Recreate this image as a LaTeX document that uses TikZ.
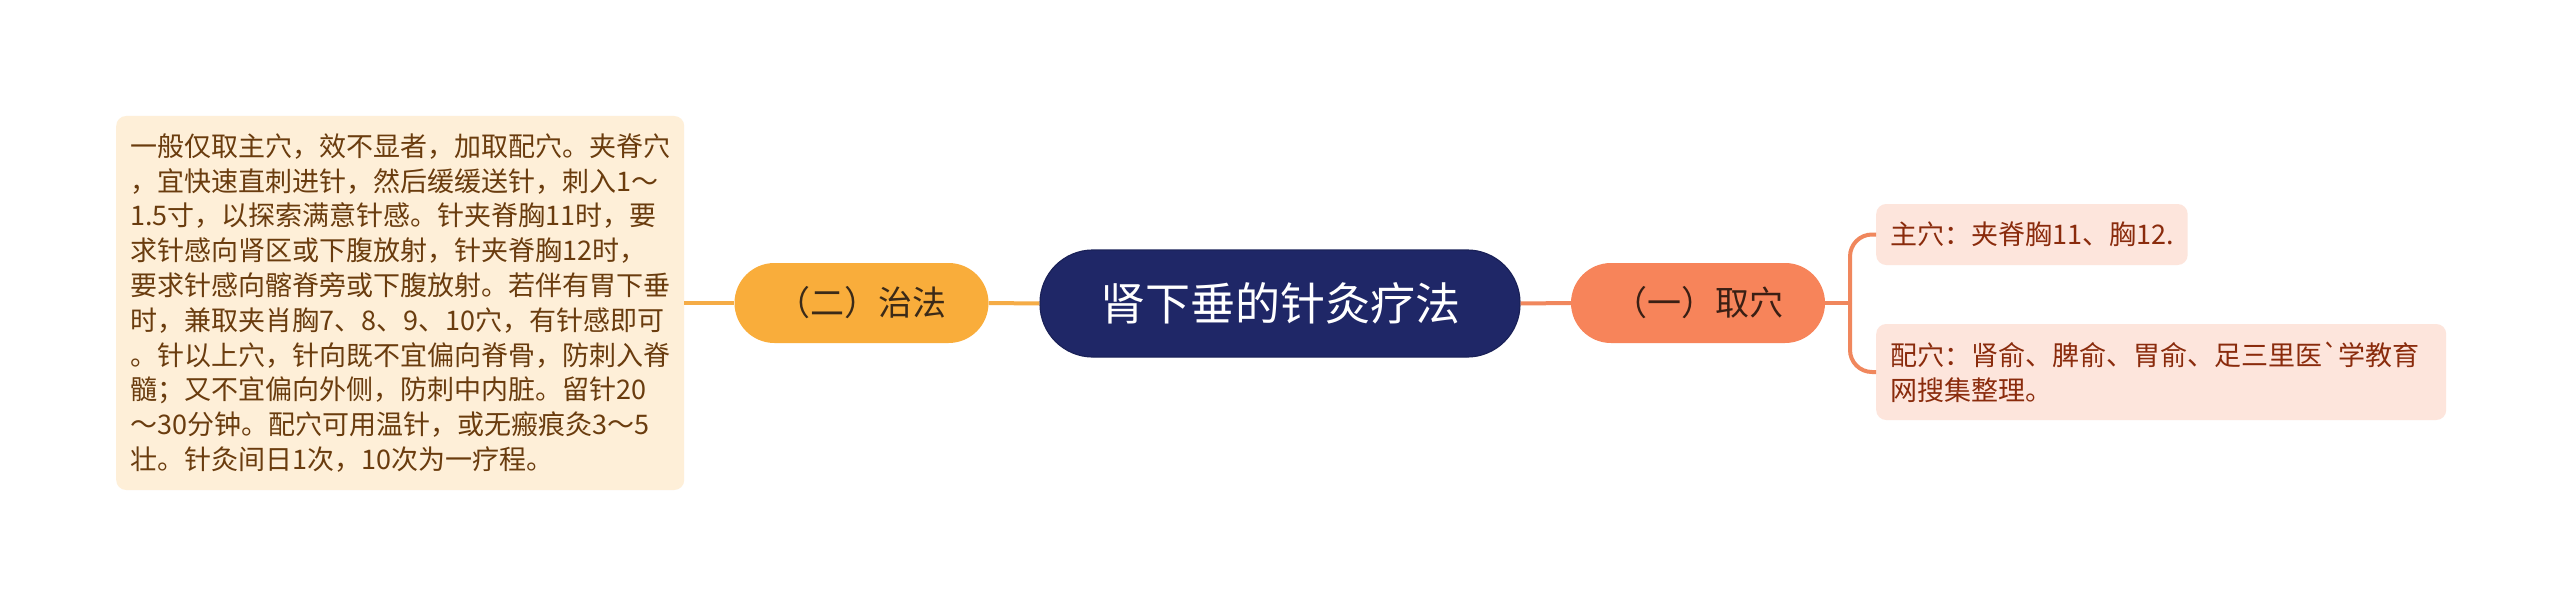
\documentclass[tikz,border=0pt]{standalone}
\usepackage{fontspec}
\newfontfamily\cjk{Noto Sans CJK SC}
\definecolor{navy}{HTML}{1F2767}
\definecolor{zfill}{HTML}{F9AD3B}
\definecolor{ztext}{HTML}{3B2A18}
\definecolor{lfill}{HTML}{FEEFD8}
\definecolor{ltext}{HTML}{6A3C0E}
\definecolor{qfill}{HTML}{F7845A}
\definecolor{qtext}{HTML}{3A1F14}
\definecolor{rfill}{HTML}{FDE5DC}
\definecolor{rtext}{HTML}{8A2B0C}
\definecolor{lline}{HTML}{F5AC46}
\definecolor{rline}{HTML}{F0875D}
\tikzset{
  centerbox/.style={fill=navy, draw=navy!85!black, line width=1.2pt, text=white,
    minimum width=480pt, minimum height=107pt, rounded corners=53pt, inner sep=0pt,
    font={\cjk\fontsize{45}{54}\selectfont}},
  pillbox/.style={minimum width=254pt, minimum height=80pt, rounded corners=40pt,
    inner sep=0pt, font={\cjk\fontsize{34}{40}\selectfont}},
  leftbox/.style={fill=lfill, text=ltext, rounded corners=10pt, anchor=west,
    inner xsep=14pt, inner ysep=0pt, minimum height=374pt, text width=540pt, align=left,
    font={\cjk\fontsize{27}{34.8}\selectfont}},
  rightbox/.style={fill=rfill, text=rtext, rounded corners=10pt, anchor=west,
    inner xsep=14pt, inner ysep=0pt, align=left,
    font={\cjk\fontsize{27}{34.8}\selectfont}},
  lconn/.style={draw=lline, line width=4pt},
  rconn/.style={draw=rline, line width=4pt},
}
\begin{document}
\begin{tikzpicture}[x=1pt, y=1pt]
\useasboundingbox (0,0) rectangle (2560,-607);
\fill[white] (0,0) rectangle (2560,-607);

\node[centerbox] (c) at (1280,-303.5) {肾下垂的针灸疗法};
\node[pillbox, fill=zfill, text=ztext] (z) at (861.5,-303) {（二）治法};
\node[pillbox, fill=qfill, text=qtext] (q) at (1698,-303) {（一）取穴};

\node[leftbox] (l) at (116,-303) {一般仅取主穴，效不显者，加取配穴。夹脊穴\\
，宜快速直刺进针，然后缓缓送针，刺入1～\\
1.5寸，以探索满意针感。针夹脊胸11时，要\\
求针感向肾区或下腹放射，针夹脊胸12时，\\
要求针感向髂脊旁或下腹放射。若伴有胃下垂\\
时，兼取夹肖胸7、8、9、10穴，有针感即可\\
。针以上穴，针向既不宜偏向脊骨，防刺入脊\\
髓；又不宜偏向外侧，防刺中内脏。留针20\\
～30分钟。配穴可用温针，或无瘢痕灸3～5\\
壮。针灸间日1次，10次为一疗程。};

\node[rightbox, minimum height=61pt] (r1) at (1876,-234.5) {主穴：夹脊胸11、胸12.};
\node[rightbox, minimum height=96pt, text width=542pt] (r2) at (1876,-372) {配穴：肾俞、脾俞、胃俞、足三里医`学教育\\
网搜集整理。};

\coordinate (b) at (1850,-303);

\begin{scope}[on background layer/.try]
\end{scope}
\draw[lconn] (l.east) -- (z.west);
\draw[lconn] (z.east) -- (c.west);
\draw[rconn] (c.east) -- (q.west);
\draw[rconn] (q.east) -- (b);
\draw[rconn, rounded corners=22pt] (b) |- (r1.west);
\draw[rconn, rounded corners=22pt] (b) |- (r2.west);
\end{tikzpicture}
\end{document}
